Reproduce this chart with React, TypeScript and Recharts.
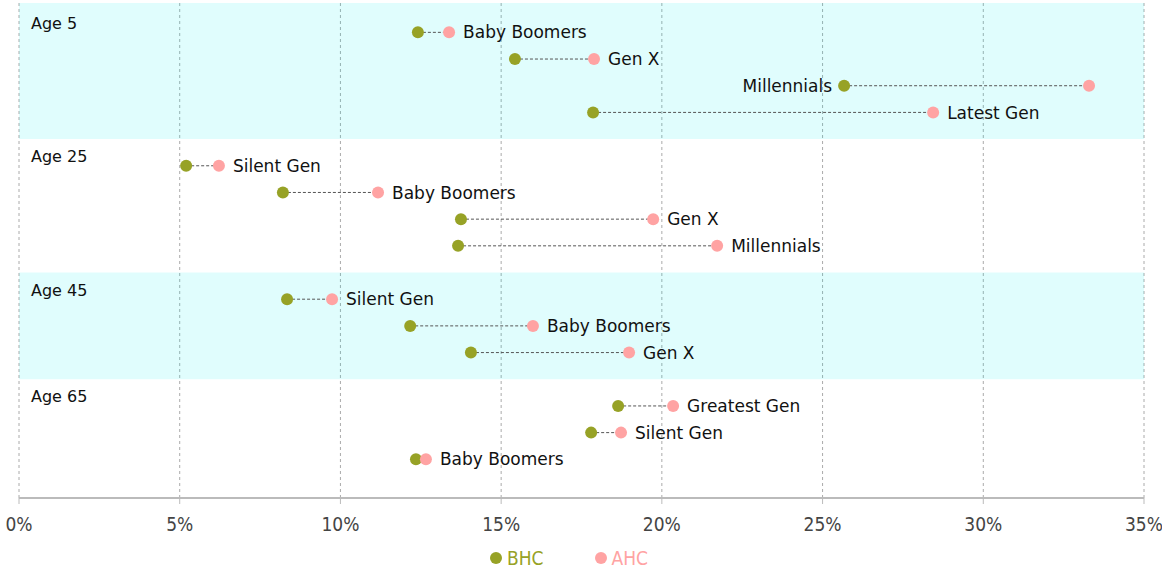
import React from 'react';
import {
  ComposedChart,
  Scatter,
  XAxis,
  YAxis,
  CartesianGrid,
  ReferenceArea,
  ReferenceLine,
  Legend,
} from 'recharts';

const ageGroups = ['Age 5', 'Age 25', 'Age 45', 'Age 65'];
const rowAgeIndex = [0, 0, 0, 0, 1, 1, 1, 1, 2, 2, 2, 3, 3, 3];
const rowLabels = [
  'Baby Boomers', 'Gen X', 'Millennials', 'Latest Gen',
  'Silent Gen', 'Baby Boomers', 'Gen X', 'Millennials',
  'Silent Gen', 'Baby Boomers', 'Gen X',
  'Greatest Gen', 'Silent Gen', 'Baby Boomers',
];
const bhcValues = [12.41, 15.43, 25.67, 17.86, 5.2, 8.21, 13.75, 13.66, 8.34, 12.17, 14.06, 18.64, 17.8, 12.35];
const ahcValues = [13.38, 17.89, 33.29, 28.44, 6.22, 11.17, 19.73, 21.72, 9.74, 15.99, 18.98, 20.35, 18.73, 12.66];
const xTicks = [0, 5, 10, 15, 20, 25, 30, 35];

const BHC_COLOR = '#97a226';
const AHC_COLOR = '#ffa3a3';
const BAND_COLOR = '#00f0f0';
const FONT = 'DejaVu Sans';
const TICK_FONT = "'DejaVu Sans Condensed', 'DejaVu Sans'";

// layout: slot positions (a blank slot between age groups)
const slots: number[] = [];
{
  let s = 0;
  rowAgeIndex.forEach((g, i) => {
    if (i > 0 && g !== rowAgeIndex[i - 1]) s += 1;
    slots.push(s);
    s += 1;
  });
}
const Y_MIN = -1.1;
const Y_MAX = 17.45;

const rows = rowLabels.map((label, i) => ({
  label,
  y: slots[i],
  bhc: bhcValues[i],
  ahc: ahcValues[i],
}));

const bhcData = rows.map((r) => ({ x: r.bhc, y: r.y }));
const ahcData = rows.map((r) => ({ x: r.ahc, y: r.y }));
const labelData = rows.map((r) => {
  const right = Math.max(r.bhc, r.ahc);
  const left = Math.min(r.bhc, r.ahc);
  const placeLeft = right > 30;
  return { x: placeLeft ? left : right, y: r.y, label: r.label, placeLeft };
});

const bands = ageGroups.map((name, g) => {
  const ys = rows.filter((_, i) => rowAgeIndex[i] === g).map((r) => r.y);
  const first = Math.min(...ys);
  const last = Math.max(...ys);
  return { name, g, first, last };
});
const bandRanges = bands.map((b, i) => ({
  ...b,
  y1: i === 0 ? Y_MIN : (bands[i - 1].last + b.first) / 2,
  y2: i === bands.length - 1 ? Y_MAX : (b.last + bands[i + 1].first) / 2,
}));
const ageLabelData = bands.map((b) => ({ x: 0, y: b.first - 0.35, label: b.name }));

const Dot = (color: string) => (props: any) => {
  const { cx, cy } = props;
  if (cx == null || cy == null) return <g />;
  return <circle cx={cx} cy={cy} r={6} fill={color} />;
};

const RowLabel = (props: any) => {
  const { cx, cy, payload } = props;
  if (cx == null || cy == null) return <g />;
  const left = payload.placeLeft;
  return (
    <text
      x={left ? cx - 12 : cx + 14}
      y={cy}
      dy="0.36em"
      textAnchor={left ? 'end' : 'start'}
      fontSize={17}
      fontFamily={FONT}
      fill="#111"
    >
      {payload.label}
    </text>
  );
};

const AgeLabel = (props: any) => {
  const { cx, cy, payload } = props;
  if (cx == null || cy == null) return <g />;
  return (
    <text x={cx + 12} y={cy} dy="0.36em" fontSize={16} fontFamily={FONT} fill="#111">
      {payload.label}
    </text>
  );
};

const LegendContent = () => (
  <div
    style={{
      display: 'flex',
      justifyContent: 'center',
      gap: 50,
      fontFamily: TICK_FONT,
      fontSize: 19,
      paddingRight: 26,
      height: 32,
      alignItems: 'center',
      position: 'relative',
      top: 4,
    }}
  >
    <span style={{ color: BHC_COLOR, display: 'flex', alignItems: 'center' }}>
      <svg width={14} height={14} style={{ marginRight: 4 }}>
        <circle cx={7} cy={7} r={6} fill={BHC_COLOR} />
      </svg>
      BHC
    </span>
    <span style={{ color: AHC_COLOR, display: 'flex', alignItems: 'center' }}>
      <svg width={14} height={14} style={{ marginRight: 4 }}>
        <circle cx={7} cy={7} r={6} fill={AHC_COLOR} />
      </svg>
      AHC
    </span>
  </div>
);

export default function App() {
  return (
    <div style={{ position: 'absolute', left: 0, top: 0, background: '#fff' }}>
      <ComposedChart
        width={1162}
        height={570}
        margin={{ top: 3, right: 18, left: 19, bottom: 0 }}
        style={{ fontFamily: FONT }}
      >
        <CartesianGrid horizontal={false} stroke="#aaa" strokeDasharray="3 3" />
        {bandRanges
          .filter((b) => b.g % 2 === 0)
          .map((b) => (
            <ReferenceArea
              key={b.name}
              x1={0}
              x2={35}
              y1={b.y1}
              y2={b.y2}
              fill={BAND_COLOR}
              fillOpacity={0.12}
              stroke="none"
              ifOverflow="hidden"
            />
          ))}
        <XAxis
          type="number"
          dataKey="x"
          domain={[0, 35]}
          ticks={xTicks}
          tickFormatter={(v: number) => `${v}%`}
          axisLine={{ stroke: '#bbb', strokeWidth: 2 }}
          tickLine={{ stroke: '#bbb' }}
          tickSize={6}
          tickMargin={14}
          tick={{ fill: '#444', fontSize: 19, fontFamily: TICK_FONT }}
          height={40}
          interval={0}
        />
        <YAxis type="number" dataKey="y" domain={[Y_MIN, Y_MAX]} reversed hide allowDataOverflow />
        {rows.map((r, i) => (
          <ReferenceLine
            key={'seg' + i}
            segment={[
              { x: r.bhc, y: r.y },
              { x: r.ahc, y: r.y },
            ]}
            stroke="#555"
            strokeDasharray="3 2"
            strokeWidth={1}
          />
        ))}
        <Scatter name="BHC" data={bhcData} fill={BHC_COLOR} shape={Dot(BHC_COLOR)} isAnimationActive={false} />
        <Scatter name="AHC" data={ahcData} fill={AHC_COLOR} shape={Dot(AHC_COLOR)} isAnimationActive={false} />
        <Scatter name="labels" data={labelData} shape={RowLabel} isAnimationActive={false} legendType="none" />
        <Scatter name="ages" data={ageLabelData} shape={AgeLabel} isAnimationActive={false} legendType="none" />
        <Legend verticalAlign="bottom" height={32} content={LegendContent} />
      </ComposedChart>
    </div>
  );
}
